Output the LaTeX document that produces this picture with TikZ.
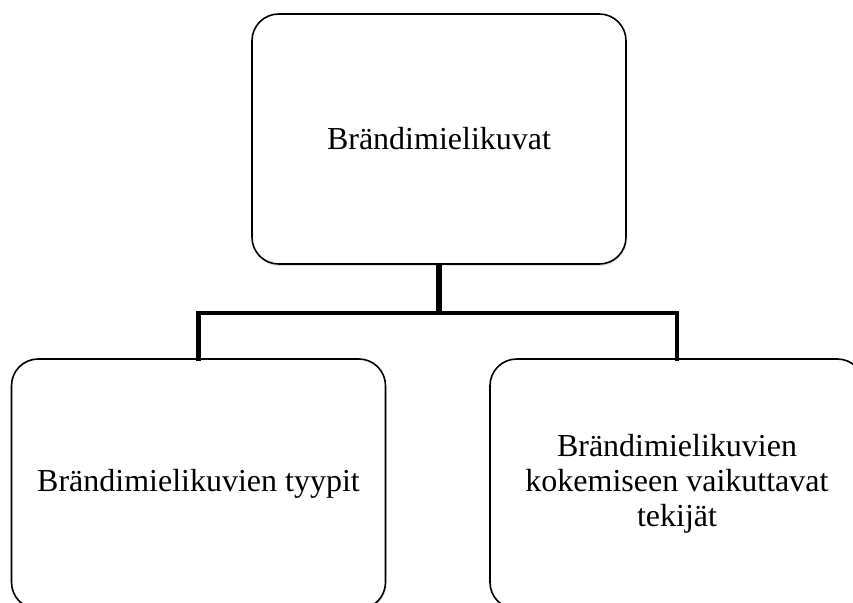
\documentclass[tikz,border=0pt]{standalone}
\usepackage{fontspec}
\setmainfont{Liberation Serif}
\usetikzlibrary{shadows}
\begin{document}
\begin{tikzpicture}[x=0.75pt,y=-0.75pt,
  box/.style={draw=black,line width=1.2pt,fill=white,rounded corners=20pt,
    minimum width=280.5pt,minimum height=187.5pt,align=center,
    font=\fontsize{24}{26.4}\selectfont,
    drop shadow={opacity=0.22,shadow xshift=0.6pt,shadow yshift=-1.6pt}},
  link/.style={line width=3.5pt,line cap=rect}]
\useasboundingbox (0,0) rectangle (853,603);
\node[box] (top) at (439,139) {Brändimielikuvat};
\node[box] (left) at (198.5,484) {Brändimielikuvien tyypit};
\node[box] (right) at (677,484) {Brändimielikuvien\\kokemiseen vaikuttavat\\tekijät};
\coordinate (fork) at (438,313);
\draw[line width=5pt] (top.south) -- (top.south |- fork);
\draw[link] (left.north) -- (left.north |- fork) -| (right.north);
\end{tikzpicture}
\end{document}
